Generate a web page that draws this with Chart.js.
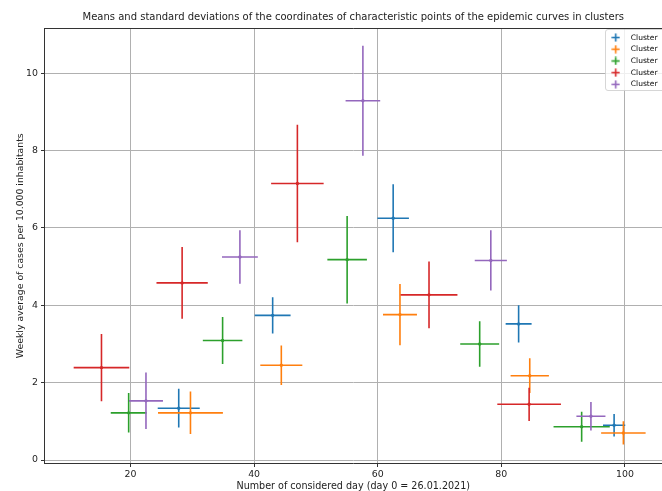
<!DOCTYPE html>
<html>
<head>
<meta charset="utf-8">
<title>Characteristic points of the epidemic curves in clusters</title>
<script src="https://cdn.jsdelivr.net/npm/chart.js@4.4.1/dist/chart.umd.min.js"></script>
<style>
    html, body { margin: 0; padding: 0; background: #fff; }
    #chartWrap { width: 662px; height: 491px; overflow: hidden; }
</style>
</head>
<body>
<div id="chartWrap"><canvas id="clusterChart" width="662" height="491"></canvas></div>
<script>
// ===== DATA =====
const clusterNames = ['Cluster', 'Cluster', 'Cluster', 'Cluster', 'Cluster'];
const clusterColors = ['#1f77b4', '#ff7f0e', '#2ca02c', '#d62728', '#9467bd'];

// mean day of each characteristic point (one row per cluster)
const dayMean = [
    [27.8, 43.0, 62.5, 82.8, 98.25],
    [29.7, 44.4, 63.6, 84.6, 99.75],
    [19.7, 34.9, 55.05, 76.5, 93.0],
    [15.3, 28.35, 47.0, 68.3, 84.5],
    [22.5, 37.7, 57.6, 78.3, 94.5]
];
// standard deviation of the day
const daySd = [
    [3.4, 2.9, 2.55, 2.1, 1.8],
    [5.25, 3.4, 2.75, 3.1, 3.6],
    [2.9, 3.2, 3.2, 3.15, 4.55],
    [4.5, 4.15, 4.25, 4.6, 5.15],
    [2.75, 2.9, 2.8, 2.6, 2.35]
];
// mean weekly cases per 10.000 inhabitants
const casesMean = [
    [1.34, 3.74, 6.25, 3.52, 0.90],
    [1.22, 2.45, 3.76, 2.18, 0.70],
    [1.22, 3.09, 5.18, 3.00, 0.86],
    [2.39, 4.58, 7.15, 4.27, 1.44],
    [1.53, 5.25, 9.29, 5.16, 1.13]
];
// standard deviation of the cases
const casesSd = [
    [0.50, 0.47, 0.88, 0.48, 0.29],
    [0.55, 0.51, 0.79, 0.45, 0.30],
    [0.51, 0.61, 1.13, 0.59, 0.39],
    [0.87, 0.93, 1.52, 0.86, 0.43],
    [0.73, 0.69, 1.42, 0.78, 0.37]
];

const xTicks = [20, 40, 60, 80, 100];
const yTicks = [0, 2, 4, 6, 8, 10];

const FONT = 'DejaVu Sans';

// ===== ERROR BAR POINTS =====
// each mean becomes a horizontal and a vertical segment, split by gaps
function buildErrorBars(c) {
    const pts = [];
    dayMean[c].forEach((x, i) => {
        const y = casesMean[c][i];
        pts.push({ x: x - daySd[c][i], y: y });
        pts.push({ x: x, y: y, centre: true });
        pts.push({ x: x + daySd[c][i], y: y });
        pts.push({ x: x, y: null });
        pts.push({ x: x, y: y - casesSd[c][i] });
        pts.push({ x: x, y: y + casesSd[c][i] });
        pts.push({ x: x, y: null });
    });
    return pts;
}

// small "+" markers for the legend
function makeCross(color) {
    const cv = document.createElement('canvas');
    cv.width = 9;
    cv.height = 9;
    const g = cv.getContext('2d');
    g.strokeStyle = color;
    g.lineWidth = 1.5;
    g.beginPath();
    g.moveTo(0.5, 4.5); g.lineTo(8.5, 4.5);
    g.moveTo(4.5, 0.5); g.lineTo(4.5, 8.5);
    g.stroke();
    return cv;
}

// ===== PLUGINS =====
const frameAndLegend = {
    id: 'frameAndLegend',
    afterLayout(chart) {
        const lg = chart.legend;
        if (!lg) return;
        lg.left = 600.2;
        lg.top = 29.6;
        lg.right = lg.left + lg.width;
        lg.bottom = lg.top + lg.height;
    },
    afterDatasetsDraw(chart) {
        const { ctx, chartArea } = chart;
        ctx.save();
        // top spine
        ctx.strokeStyle = '#333';
        ctx.lineWidth = 1;
        ctx.beginPath();
        ctx.moveTo(chartArea.left, Math.round(chartArea.top) + 0.5);
        ctx.lineTo(chartArea.right + 2, Math.round(chartArea.top) + 0.5);
        ctx.stroke();
        // legend frame
        ctx.fillStyle = 'rgba(255,255,255,0.8)';
        ctx.strokeStyle = 'rgba(204,204,204,0.8)';
        ctx.beginPath();
        ctx.roundRect(605.5, 29.5, 70, 61, 2.5);
        ctx.fill();
        ctx.stroke();
        ctx.restore();
        if (chart.legend) chart.legend.draw();
    }
};

// ===== CHART =====
function initClusterChart() {
    const ctx = document.getElementById('clusterChart');
    const crosses = clusterColors.map(makeCross);

    const datasets = clusterNames.map((name, c) => ({
        label: name,
        data: buildErrorBars(c),
        borderColor: clusterColors[c],
        backgroundColor: clusterColors[c],
        borderWidth: 1.6,
        spanGaps: false,
        fill: false,
        tension: 0,
        order: clusterNames.length - c,
        pointStyle: 'circle',
        pointBorderWidth: 0,
        pointRadius: (pc) => (pc.raw && pc.raw.centre ? 1.7 : 0),
        pointHoverRadius: 0
    }));

    new Chart(ctx, {
        type: 'line',
        data: { datasets: datasets },
        plugins: [frameAndLegend],
        options: {
            responsive: false,
            animation: false,
            devicePixelRatio: 1,
            events: [],
            layout: { padding: 0 },
            plugins: {
                title: {
                    display: true,
                    fullSize: false,
                    text: 'Means and standard deviations of the coordinates of characteristic points of the epidemic curves in clusters',
                    color: '#222',
                    font: { family: FONT, size: 10, weight: 'normal' },
                    padding: { top: 11.5, bottom: 4.5 }
                },
                legend: {
                    position: 'chartArea',
                    align: 'start',
                    labels: {
                        usePointStyle: true,
                        pointStyleWidth: 22.7,
                        boxHeight: 7,
                        padding: 4.2,
                        color: '#222',
                        font: { family: FONT, size: 7.5 },
                        sort: (a, b) => a.datasetIndex - b.datasetIndex,
                        generateLabels: (chart) => {
                            const items = Chart.defaults.plugins.legend.labels.generateLabels(chart);
                            items.forEach(it => { it.pointStyle = crosses[it.datasetIndex]; });
                            return items;
                        }
                    }
                },
                tooltip: { enabled: false }
            },
            scales: {
                x: {
                    type: 'linear',
                    min: 6.08,
                    max: 106.0,
                    afterFit: (s) => { s.height = 27.5; },
                    afterBuildTicks: (s) => { s.ticks = xTicks.map(v => ({ value: v })); },
                    grid: { color: '#b0b0b0', lineWidth: 1, tickLength: 3.5, tickColor: '#333' },
                    border: { color: '#333', width: 1 },
                    ticks: {
                        color: '#222',
                        padding: 1.5,
                        maxRotation: 0,
                        font: { family: FONT, size: 9.4 },
                        callback: (v) => String(v)
                    },
                    title: {
                        display: true,
                        text: 'Number of considered day (day 0 = 26.01.2021)',
                        color: '#222',
                        font: { family: FONT, size: 9.6, lineHeight: 1 },
                        padding: { top: 0, bottom: 0 }
                    }
                },
                y: {
                    type: 'linear',
                    min: -0.09,
                    max: 11.17,
                    afterFit: (s) => { s.width = 44.5; },
                    afterBuildTicks: (s) => { s.ticks = yTicks.map(v => ({ value: v })); },
                    grid: { color: '#b0b0b0', lineWidth: 1, tickLength: 3.5, tickColor: '#333' },
                    border: { color: '#333', width: 1 },
                    ticks: {
                        color: '#222',
                        padding: 3,
                        font: { family: FONT, size: 9.4 },
                        callback: (v) => String(v)
                    },
                    title: {
                        display: true,
                        text: 'Weekly average of cases per 10.000 inhabitants',
                        color: '#222',
                        font: { family: FONT, size: 9.3 },
                        padding: { top: 15, bottom: 0 }
                    }
                }
            }
        }
    });
}

// ===== INITIALIZE ON LOAD =====
document.addEventListener('DOMContentLoaded', () => {
    initClusterChart();
});
</script>
</body>
</html>
